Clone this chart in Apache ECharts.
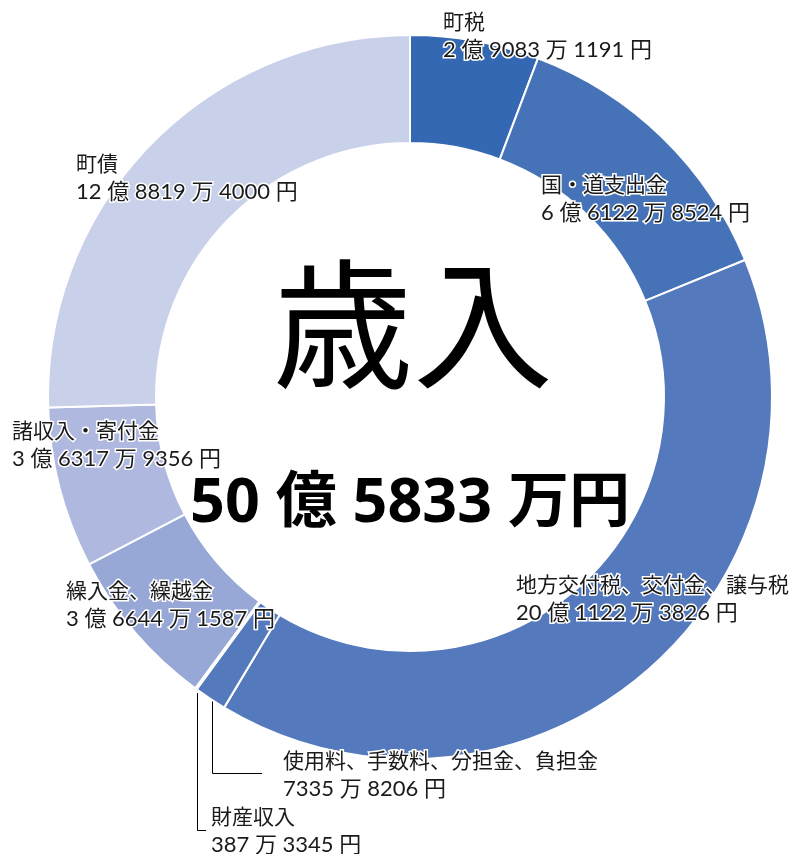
<!DOCTYPE html>
<html>
<head>
<meta charset="utf-8">
<script src="https://cdn.jsdelivr.net/npm/echarts@6/dist/echarts.min.js"></script>
<style>
  html, body { margin: 0; padding: 0; background: #fff; }
  #chart { width: 794px; height: 854px; }
</style>
</head>
<body>
<div id="chart"></div>
<script>
// 歳入の内訳（円）
const names = [
  '町税',
  '国・道支出金',
  '地方交付税、交付金、譲与税',
  '使用料、手数料、分担金、負担金',
  '財産収入',
  '繰入金、繰越金',
  '諸収入・寄付金',
  '町債'
];
const values = [
  290831191,
  661228524,
  2011223826,
  73358206,
  3873345,
  366441587,
  363179356,
  1288194000
];
const colors = ['#3468b2', '#4673b8', '#5479bd', '#5479bd', '#5f82c2', '#97a8d6', '#afb9e0', '#c9d0e9'];

// ラベル位置（左上）
const labelPos = [
  [443, 8], [541, 171], [516, 571], [283, 747],
  [211, 803], [66, 577], [12, 417], [76, 150]
];
// 引き出し線
const leaders = {
  3: [[212.5, 697], [212.5, 773.5], [262, 773.5]],
  4: [[197.5, 693], [197.5, 830.5], [206, 830.5]]
};

const total = values.reduce((a, b) => a + b, 0);

function fmtYen(v) {
  const oku = Math.floor(v / 1e8);
  const man = Math.floor((v % 1e8) / 1e4);
  const en = v % 1e4;
  let s = '';
  if (oku > 0) s += oku + ' 億 ';
  if (man > 0) s += man + ' 万 ';
  return s + en + ' 円';
}
function fmtTotal(v) {
  const oku = Math.floor(v / 1e8);
  const man = Math.floor((v % 1e8) / 1e4);
  return oku + ' 億 ' + man + ' 万円';
}

const chart = echarts.init(document.getElementById('chart'));
const font = "Lato, 'Noto Sans CJK JP', sans-serif";

chart.setOption({
  animation: false,
  graphic: [
    {
      type: 'text',
      x: 413,
      y: 254,
      style: {
        text: '歳入',
        align: 'center',
        font: "normal 140px 'Noto Sans CJK JP', sans-serif",
        fill: '#000'
      }
    },
    {
      type: 'text',
      x: 410,
      y: 474,
      style: {
        text: fmtTotal(total),
        align: 'center',
        font: "bold 61px 'Noto Sans', 'Noto Sans CJK JP', sans-serif",
        fill: '#000'
      }
    }
  ],
  series: [{
    type: 'pie',
    center: [410, 397],
    radius: [254, 362],
    startAngle: 90,
    avoidLabelOverlap: false,
    itemStyle: { borderColor: '#fff', borderWidth: 2 },
    label: {
      show: true,
      position: 'outside',
      formatter: p => `{n|${p.name}}\n{v|${fmtYen(p.value)}}`,
      rich: {
        n: { fontFamily: font, fontSize: 21, lineHeight: 28, color: '#1a1a1a', textBorderColor: '#fff', textBorderWidth: 3 },
        v: { fontFamily: font, fontSize: 22, lineHeight: 28, color: '#1a1a1a', textBorderColor: '#fff', textBorderWidth: 3 }
      }
    },
    labelLine: { show: false },
    labelLayout: params => {
      const i = params.dataIndex;
      const out = { x: labelPos[i][0], y: labelPos[i][1], align: 'left', verticalAlign: 'top' };
      if (leaders[i]) out.labelLinePoints = leaders[i];
      return out;
    },
    emphasis: { disabled: true },
    data: names.map((n, i) => ({
      name: n,
      value: values[i],
      itemStyle: { color: colors[i] },
      labelLine: leaders[i] ? { show: true, lineStyle: { color: '#000', width: 1 } } : { show: false }
    }))
  }]
});
</script>
</body>
</html>
